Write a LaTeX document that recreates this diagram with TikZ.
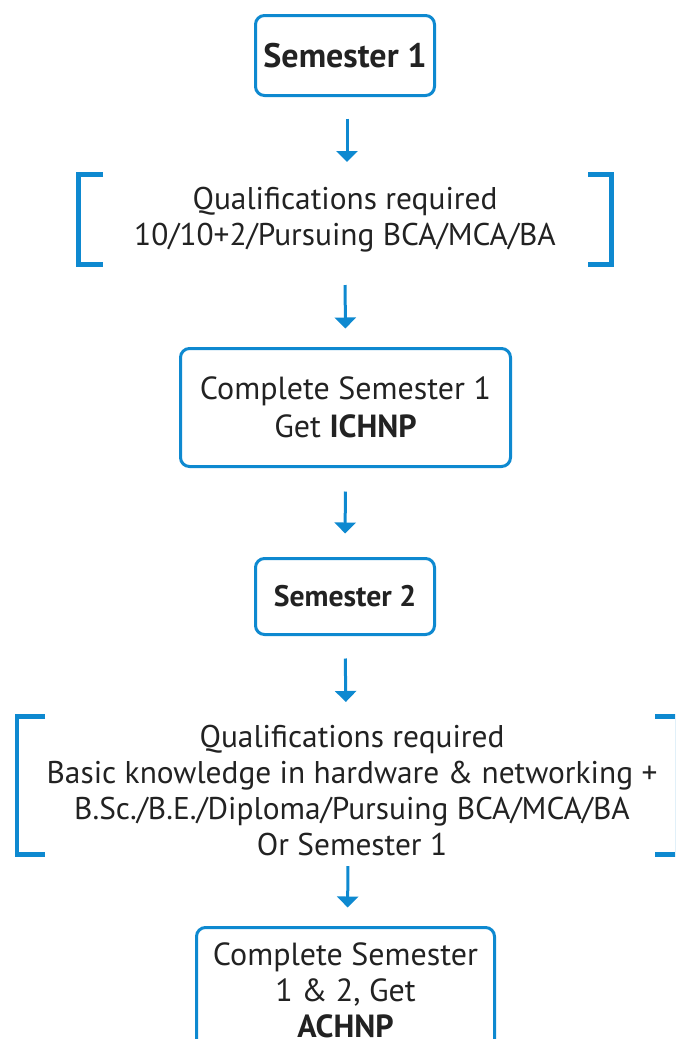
\documentclass[tikz,border=0pt]{standalone}
\usepackage{fontspec}
\setmainfont{PT Sans}
\usetikzlibrary{arrows.meta}
\definecolor{fblue}{RGB}{14,137,208}
\definecolor{ftext}{RGB}{34,34,34}
\begin{document}
\begin{tikzpicture}[x=1pt,y=-1pt,
  box/.style={draw=fblue, line width=3pt, rounded corners=9pt, align=center, text=ftext, inner sep=0pt},
  txt/.style={align=center, text=ftext, font=\fontsize{31.4}{36}\selectfont},
  arr/.style={draw=fblue, line width=3pt, -{Triangle[width=21pt,length=11pt]}},
  brk/.style={draw=fblue, line width=4.5pt}]
\useasboundingbox (0,0) rectangle (675,1039);
\clip (0,0) rectangle (675,1039);

\node[box, minimum width=179pt, minimum height=80pt, font=\bfseries\fontsize{34}{36}\selectfont] (s1) at (345,55.5) {Semester 1};

\node[txt] (q1) at (345,220) {Qualifications required\\10/10+2/Pursuing BCA/MCA/BA};
\coordinate (b1t) at (345,174.5);
\coordinate (b1b) at (345,264.5);
\draw[brk] (103,174.5) -- (78.5,174.5) -- (78.5,264.5) -- (103,264.5);
\draw[brk] (588,174.5) -- (611.5,174.5) -- (611.5,264.5) -- (588,264.5);

\node[box, minimum width=330pt, minimum height=118pt, font=\fontsize{32}{38}\selectfont] (c1) at (345.5,407.5) {Complete Semester 1\\Get \textbf{ICHNP}};

\node[box, minimum width=179pt, minimum height=76pt, font=\bfseries\fontsize{29.7}{36}\selectfont] (s2) at (345,596.5) {Semester 2};

\node[txt] (q2) at (352,790) {Qualifications required\\Basic knowledge in hardware \& networking +\\B.Sc./B.E./Diploma/Pursuing BCA/MCA/BA\\Or Semester 1};
\coordinate (b2t) at (346,716.5);
\coordinate (b2b) at (346,854.5);
\draw[brk] (45,716.5) -- (17,716.5) -- (17,854.5) -- (45,854.5);
\draw[brk] (655,716.5) -- (677,716.5) -- (677,854.5) -- (655,854.5);

\node[box, minimum width=298pt, minimum height=125pt, font=\fontsize{32}{36}\selectfont] (c2) at (345.5,990) {Complete Semester\\1 \& 2, Get\\\textbf{ACHNP}};

\draw[arr, shorten <=21.5pt, shorten >=12.5pt] ([xshift=2pt]s1.south) -- ([xshift=2pt]b1t);
\draw[arr, shorten <=20.5pt, shorten >=18.5pt] (b1b) -- (c1.north);
\draw[arr, shorten <=23.5pt, shorten >=23.5pt] (c1.south) -- (s2.north);
\draw[arr, shorten <=22.5pt, shorten >=14.5pt] (s2.south) -- (b2t);
\draw[arr, shorten <=11.5pt, shorten >=18.5pt] ([xshift=2pt]b2b) -- ([xshift=2pt]c2.north);
\end{tikzpicture}
\end{document}
